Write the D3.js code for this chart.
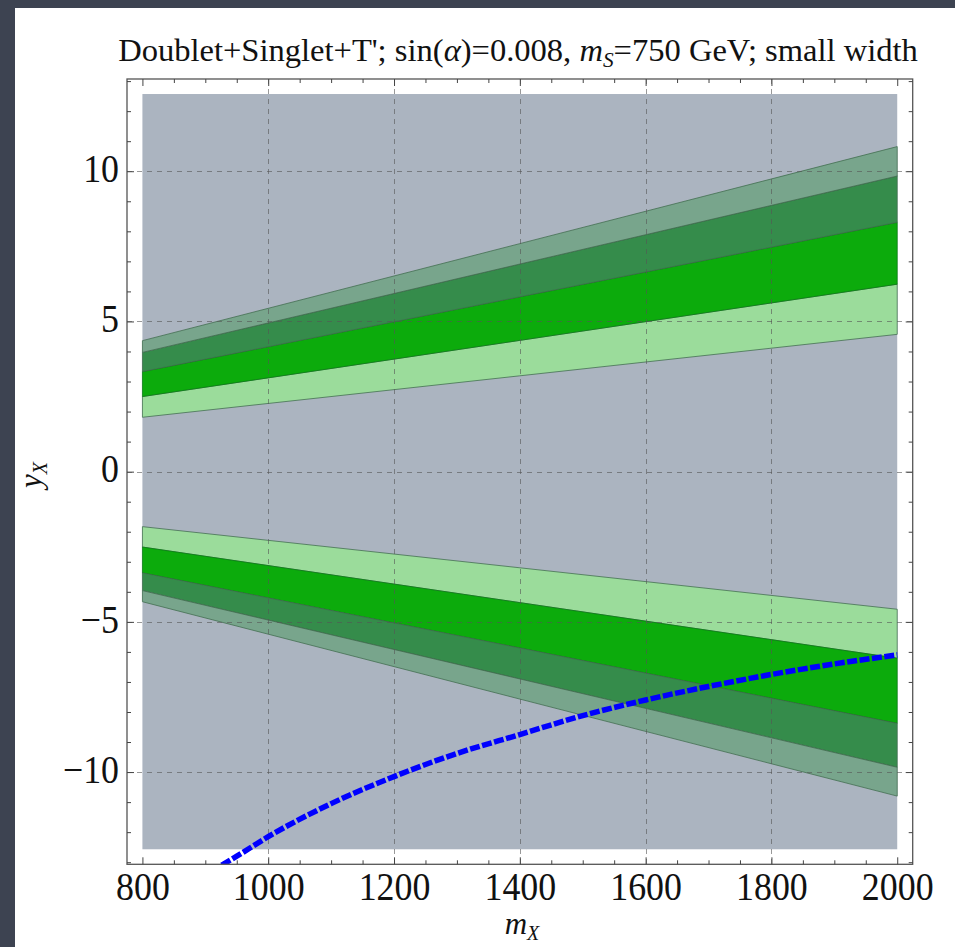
<!DOCTYPE html>
<html>
<head>
<meta charset="utf-8">
<script src="https://cdn.jsdelivr.net/npm/d3@7"></script>
<style>
  html, body { margin: 0; padding: 0; background: #3d4351; }
  svg { display: block; }
  text { font-family: "Liberation Serif", "Times New Roman", serif; fill: #111; }
</style>
</head>
<body>
<svg id="chart" width="955" height="947"></svg>
<script>
// ---- data ----
const xTicks = [800, 1000, 1200, 1400, 1600, 1800, 2000];
const yTicks = [-10, -5, 0, 5, 10];
const gridX = [1000, 1200, 1400, 1600, 1800];
const gridY = [-10, -5, 0, 5, 10];

// excluded (shaded) box
const boxMass = [800, 2000];
const boxY = [-12.57, 12.57];

// band edges sampled at these masses
const bandMass = [800, 1400, 2000];
// positive-coupling band, edges from inner to outer
const upperEdge0 = [1.81, 3.19, 4.57];
const upperEdge1 = [2.50, 4.37, 6.24];
const upperEdge2 = [3.33, 5.82, 8.30];
const upperEdge3 = [3.97, 6.91, 9.84];
const upperEdge4 = [4.36, 7.59, 10.82];
// negative-coupling band, edges from inner to outer
const lowerEdge0 = [-1.83, -3.20, -4.58];
const lowerEdge1 = [-2.51, -4.36, -6.21];
const lowerEdge2 = [-3.37, -5.87, -8.38];
const lowerEdge3 = [-3.96, -6.90, -9.84];
const lowerEdge4 = [-4.33, -7.57, -10.80];

// band fills, inner to outer
const bandColors = ["#9bdc9b", "#0cab0c", "#358c4b", "#78a58c"];

// blue dashed constraint curve
const curveMass = [926, 950, 1000, 1100, 1200, 1300, 1400, 1500, 1600, 1700, 1800, 1900, 2000];
const curveY = [-13.1, -12.8, -12.15, -11.05, -10.15, -9.38, -8.75, -8.12, -7.6, -7.15, -6.75, -6.4, -6.1];

// ---- layout ----
const svg = d3.select("#chart");
const L = 127, R = 912.7, T = 79, B = 864.3;

const x = d3.scaleLinear().domain([775.5, 2024.6]).range([L, R]);
const y = d3.scaleLinear().domain([-13.07, 13.07]).range([B, T]);

// white panel
svg.append("rect").attr("x", 15).attr("y", 8).attr("width", 940).attr("height", 939).attr("fill", "#ffffff");

const defs = svg.append("defs");
defs.append("clipPath").attr("id", "plotClip")
  .append("rect").attr("x", L).attr("y", T).attr("width", R - L).attr("height", B - T);

const plot = svg.append("g").attr("clip-path", "url(#plotClip)");

// shaded excluded box
plot.append("rect")
  .attr("x", x(boxMass[0])).attr("y", y(boxY[1]))
  .attr("width", x(boxMass[1]) - x(boxMass[0]))
  .attr("height", y(boxY[0]) - y(boxY[1]))
  .attr("fill", "#abb4c0");

// bands
const area = d3.area()
  .x(d => x(d.m))
  .y0(d => y(d.a))
  .y1(d => y(d.b));

function drawBand(edges) {
  for (let i = 0; i < 4; i++) {
    const pts = bandMass.map((m, k) => ({ m, a: edges[i][k], b: edges[i + 1][k] }));
    plot.append("path")
      .attr("d", area(pts) + "Z")
      .attr("fill", bandColors[i])
      .attr("stroke", i === 1 ? "#0a7a14" : "#3f6b4c")
      .attr("stroke-opacity", 0.75)
      .attr("stroke-width", 1);
  }
}
drawBand([upperEdge0, upperEdge1, upperEdge2, upperEdge3, upperEdge4]);
drawBand([lowerEdge0, lowerEdge1, lowerEdge2, lowerEdge3, lowerEdge4]);

// dashed grid
const grid = plot.append("g")
  .attr("stroke", "#555").attr("stroke-opacity", 0.6)
  .attr("stroke-width", 1).attr("stroke-dasharray", "5,5");
grid.selectAll("line.gx").data(gridX).join("line")
  .attr("x1", d => Math.round(x(d)) + 0.5).attr("x2", d => Math.round(x(d)) + 0.5)
  .attr("y1", T).attr("y2", B);
grid.selectAll("line.gy").data(gridY).join("line")
  .attr("y1", d => Math.round(y(d)) + 0.5).attr("y2", d => Math.round(y(d)) + 0.5)
  .attr("x1", L).attr("x2", R);

// blue curve
const line = d3.line().x((d, i) => x(curveMass[i])).y(d => y(d)).curve(d3.curveMonotoneX);
plot.append("path")
  .attr("d", line(curveY))
  .attr("fill", "none")
  .attr("stroke", "#0000ff")
  .attr("stroke-width", 5.5)
  .attr("stroke-dasharray", "10,2.5");

// frame
svg.append("rect")
  .attr("x", L).attr("y", T).attr("width", R - L).attr("height", B - T)
  .attr("fill", "none").attr("stroke", "#555").attr("stroke-width", 1.3);

// ticks
const minorX = d3.range(800, 2001, 50).filter(v => !xTicks.includes(v));
const minorY = d3.range(-13, 14, 1).filter(v => !yTicks.includes(v));

function styleAxis(g) {
  g.select(".domain").remove();
  g.selectAll(".tick line").attr("stroke", "#444").attr("stroke-width", 1);
}

svg.append("g").attr("transform", `translate(0,${B})`)
  .call(d3.axisBottom(x).tickValues(xTicks).tickSize(-7).tickPadding(8).tickFormat(d3.format("d")))
  .call(styleAxis)
  .call(g => g.selectAll("text").attr("font-size", 39).attr("fill", "#111")
    .attr("transform", "scale(0.92,1)"));
svg.append("g").attr("transform", `translate(0,${B})`)
  .call(d3.axisBottom(x).tickValues(minorX).tickSize(-4).tickFormat(""))
  .call(styleAxis);

svg.append("g").attr("transform", `translate(0,${T})`)
  .call(d3.axisTop(x).tickValues(xTicks).tickSize(-7).tickFormat(""))
  .call(styleAxis);
svg.append("g").attr("transform", `translate(0,${T})`)
  .call(d3.axisTop(x).tickValues(minorX).tickSize(-4).tickFormat(""))
  .call(styleAxis);

const fmtY = d => (d < 0 ? "\u2212" + Math.abs(d) : String(d));
svg.append("g").attr("transform", `translate(${L},0)`)
  .call(d3.axisLeft(y).tickValues(yTicks).tickSize(-7).tickPadding(8).tickFormat(fmtY))
  .call(styleAxis)
  .call(g => g.selectAll("text").attr("font-size", 39).attr("fill", "#111").attr("dy", "0.26em")
    .attr("x", -8.7).attr("transform", "scale(0.92,1)"));
svg.append("g").attr("transform", `translate(${L},0)`)
  .call(d3.axisLeft(y).tickValues(minorY).tickSize(-4).tickFormat(""))
  .call(styleAxis);

svg.append("g").attr("transform", `translate(${R},0)`)
  .call(d3.axisRight(y).tickValues(yTicks).tickSize(-7).tickFormat(""))
  .call(styleAxis);
svg.append("g").attr("transform", `translate(${R},0)`)
  .call(d3.axisRight(y).tickValues(minorY).tickSize(-4).tickFormat(""))
  .call(styleAxis);

// title
const title = svg.append("text")
  .attr("x", 518).attr("y", 61)
  .attr("text-anchor", "middle")
  .attr("font-size", 32);
title.append("tspan").text("Doublet+Singlet+T'; sin(");
title.append("tspan").attr("font-style", "italic").text("\u03b1");
title.append("tspan").text(")=0.008, ");
title.append("tspan").attr("font-style", "italic").text("m");
title.append("tspan").attr("font-style", "italic").attr("font-size", 21).attr("dy", 6).text("S");
title.append("tspan").attr("dy", -6).text("=750 GeV; small width");
{
  const w = title.node().getBBox().width;
  const s = 800 / w;
  title.attr("transform", `translate(518,0) scale(${s},1) translate(-518,0)`);
}

// axis labels
const xl = svg.append("text").attr("x", 522).attr("y", 934).attr("text-anchor", "middle").attr("font-size", 31);
xl.append("tspan").attr("font-style", "italic").text("m");
xl.append("tspan").attr("font-style", "italic").attr("font-size", 20).attr("dy", 6).text("X");

const yl = svg.append("text")
  .attr("transform", "translate(41,475) rotate(-90)")
  .attr("text-anchor", "middle").attr("font-size", 31);
yl.append("tspan").attr("font-style", "italic").text("y");
yl.append("tspan").attr("font-style", "italic").attr("font-size", 20).attr("dy", 6).text("X");
</script>
</body>
</html>
